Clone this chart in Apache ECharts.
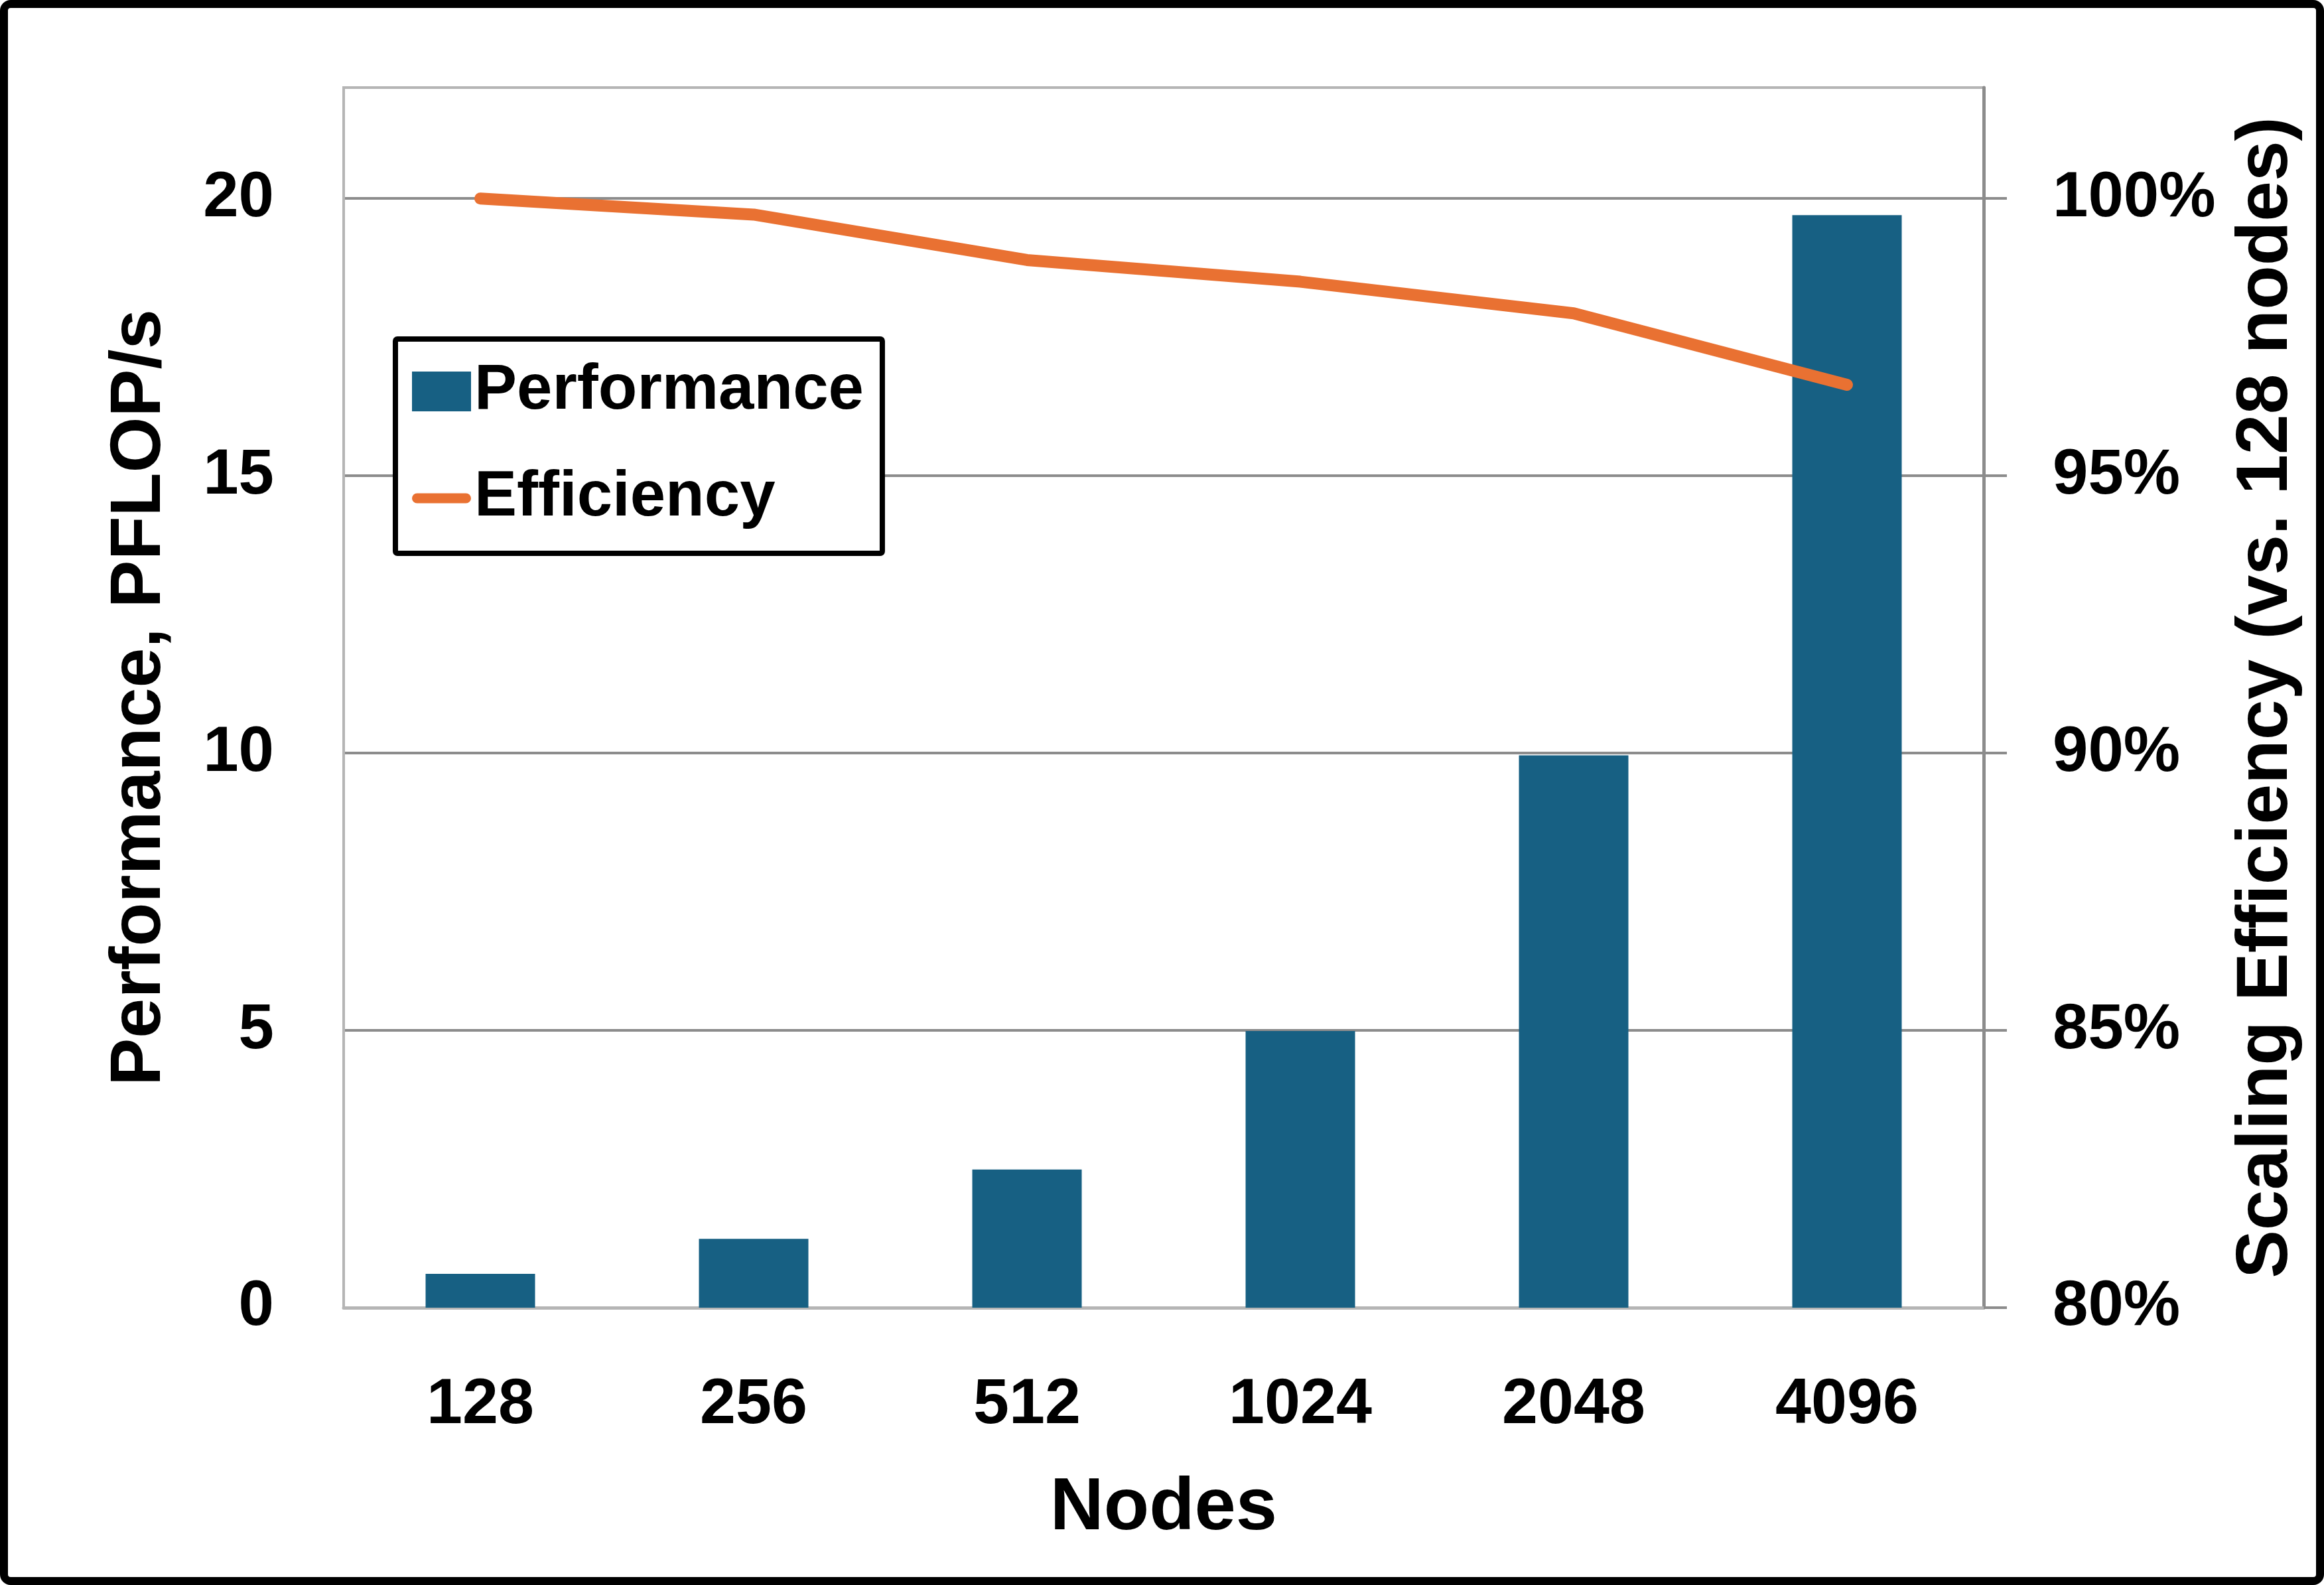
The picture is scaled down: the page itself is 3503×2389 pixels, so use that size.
<!DOCTYPE html>
<html>
<head>
<meta charset="utf-8">
<script src="https://cdn.jsdelivr.net/npm/echarts@6/dist/echarts.min.js"></script>
<style>
  html, body { margin: 0; padding: 0; background: #fff; }
  #chart { width: 3503px; height: 2389px; }
</style>
</head>
<body>
<div id="chart"></div>
<script>
// ---- data ----
const nodes = ['128', '256', '512', '1024', '2048', '4096'];
const performance = [0.61, 1.24, 2.49, 4.99, 9.96, 19.7];      // PFLOP/s
const efficiency = [100, 99.71, 98.89, 98.5, 97.93, 96.64];     // % vs. 128 nodes
const leftTicks = [0, 5, 10, 15, 20];
const rightTicks = [80, 85, 90, 95, 100];

const FONT = 'Liberation Sans, Arial, sans-serif';
const BLUE = '#176083';
const ORANGE = '#E97132';
const GRID_GRAY = '#8c8c8c';
const LIGHT_GRAY = '#b5b5b5';

const chart = echarts.init(document.getElementById('chart'), null, { renderer: 'canvas' });

chart.setOption({
  backgroundColor: '#ffffff',
  animation: false,
  textStyle: { fontFamily: FONT },
  graphic: [{
    type: 'rect',
    z: 100,
    shape: { x: 6, y: 6, width: 3491, height: 2377, r: 10 },
    style: { fill: 'none', stroke: '#000', lineWidth: 12 }
  }],
  grid: {
    left: 518, right: 513, top: 132, bottom: 418,
    show: true, borderColor: LIGHT_GRAY, borderWidth: 4, backgroundColor: 'transparent'
  },
  legend: {
    orient: 'vertical',
    left: 596, top: 511,
    padding: [31, 28, 35, 25],
    itemGap: 65,
    itemWidth: 89, itemHeight: 60,
    symbolKeepAspect: true,
    borderColor: '#000', borderWidth: 8, borderRadius: 3,
    backgroundColor: '#fff',
    textStyle: { fontFamily: FONT, fontSize: 96, fontWeight: 'bold', color: '#000' },
    data: [
      { name: 'Performance', icon: 'rect' },
      { name: 'Efficiency', icon: 'path://M9,0 L97,0 A9,9 0 0 1 97,18 L9,18 A9,9 0 0 1 9,0 Z' }
    ]
  },
  xAxis: {
    type: 'category',
    data: nodes,
    name: 'Nodes',
    nameLocation: 'middle',
    nameGap: 247,
    nameTextStyle: { fontFamily: FONT, fontSize: 112, fontWeight: 'bold', color: '#000' },
    axisLine: { show: true, lineStyle: { color: LIGHT_GRAY, width: 5 } },
    axisTick: { show: false },
    axisLabel: { fontFamily: FONT, fontSize: 97, fontWeight: 'bold', color: '#000', margin: 99 },
    splitLine: { show: false }
  },
  yAxis: [{
    type: 'value',
    position: 'left',
    min: 0, max: 22, interval: 5,
    name: 'Performance, PFLOP/s',
    nameLocation: 'middle',
    nameRotate: 90,
    nameGap: 253,
    nameTextStyle: { fontFamily: FONT, fontSize: 108, fontWeight: 'bold', color: '#000' },
    axisLine: { show: true, lineStyle: { color: LIGHT_GRAY, width: 4 } },
    axisTick: { show: false, customValues: leftTicks },
    axisLabel: {
      fontFamily: FONT, fontSize: 96, fontWeight: 'bold', color: '#000', margin: 105,
      customValues: leftTicks
    },
    splitLine: { show: true, showMinLine: false, lineStyle: { color: GRID_GRAY, width: 4 } }
  }, {
    type: 'value',
    position: 'right',
    min: 80, max: 102, interval: 5,
    name: 'Scaling Efficiency (vs. 128 nodes)',
    nameLocation: 'middle',
    nameRotate: 90,
    nameGap: 372,
    nameTextStyle: { fontFamily: FONT, fontSize: 109, fontWeight: 'bold', color: '#000' },
    axisLine: { show: true, lineStyle: { color: GRID_GRAY, width: 5 } },
    axisTick: { show: true, inside: false, length: 35, lineStyle: { color: GRID_GRAY, width: 4 }, customValues: rightTicks },
    axisLabel: {
      fontFamily: FONT, fontSize: 96, fontWeight: 'bold', color: '#000', margin: 104,
      formatter: '{value}%', customValues: rightTicks
    },
    splitLine: { show: false }
  }],
  series: [{
    name: 'Performance',
    type: 'bar',
    yAxisIndex: 0,
    data: performance,
    barWidth: 165,
    itemStyle: { color: BLUE },
    z: 2
  }, {
    name: 'Efficiency',
    type: 'line',
    yAxisIndex: 1,
    data: efficiency,
    showSymbol: false,
    symbol: 'none',
    smooth: false,
    lineStyle: { color: ORANGE, width: 18, cap: 'round', join: 'round' },
    itemStyle: { color: ORANGE },
    z: 3
  }]
});
</script>
</body>
</html>
